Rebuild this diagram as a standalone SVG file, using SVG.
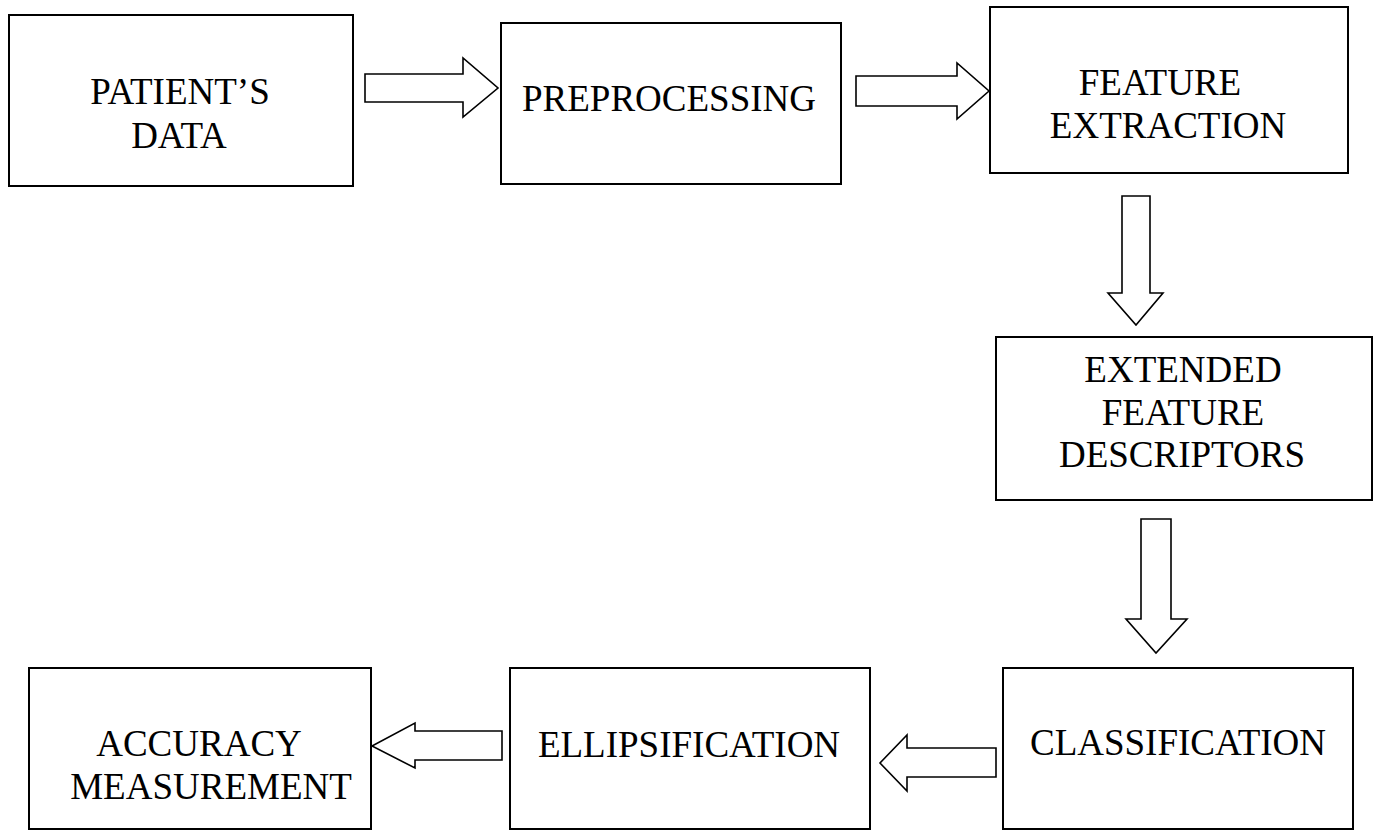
<svg xmlns="http://www.w3.org/2000/svg" width="1379" height="830" viewBox="0 0 1379 830">
<style>
.box{fill:#fff;stroke:#000;stroke-width:2}
.arr{fill:#fff;stroke:#000;stroke-width:1.6;stroke-linejoin:miter}
text{font-family:"Liberation Serif","Times New Roman",serif;font-size:37px;fill:#000;text-anchor:middle}
</style>
<rect width="1379" height="830" fill="#fff"/>
<g id="connectors">
<polygon class="arr" points="365,74 463,74 463,58 498,88 463,117 463,102 365,102"/>
<polygon class="arr" points="856,76 957,76 957,63 989,91 957,119 957,106 856,106"/>
<polygon class="arr" points="1122,196 1150,196 1150,293 1163,293 1136,325 1108,293 1122,293"/>
<polygon class="arr" points="1141,519 1171,519 1171,619 1187,619 1156,653 1126,619 1141,619"/>
<polygon class="arr" points="996,748 996,777 907,777 907,791 880,763 907,735 907,748"/>
<polygon class="arr" points="502,731 502,760 415,760 415,768 372,746 415,723 415,731"/>
</g>
<g id="patients-data">
<rect class="box" x="9" y="15" width="344" height="171"/>
<text x="180" y="104">PATIENT’S</text>
<text x="179" y="148">DATA</text>
</g>
<g id="preprocessing">
<rect class="box" x="501" y="23" width="340" height="161"/>
<text x="669" y="111">PREPROCESSING</text>
</g>
<g id="feature-extraction">
<rect class="box" x="990" y="7" width="358" height="166"/>
<text x="1160" y="95">FEATURE</text>
<text x="1168" y="138">EXTRACTION</text>
</g>
<g id="extended-feature-descriptors">
<rect class="box" x="996" y="337" width="376" height="163"/>
<text x="1183" y="382">EXTENDED</text>
<text x="1183" y="425">FEATURE</text>
<text x="1182" y="467">DESCRIPTORS</text>
</g>
<g id="classification">
<rect class="box" x="1003" y="668" width="350" height="161"/>
<text x="1178" y="755">CLASSIFICATION</text>
</g>
<g id="ellipsification">
<rect class="box" x="510" y="668" width="360" height="161"/>
<text x="689" y="757">ELLIPSIFICATION</text>
</g>
<g id="accuracy-measurement">
<rect class="box" x="29" y="668" width="342" height="161"/>
<text x="199" y="756">ACCURACY</text>
<text x="211" y="799">MEASUREMENT</text>
</g>
</svg>
